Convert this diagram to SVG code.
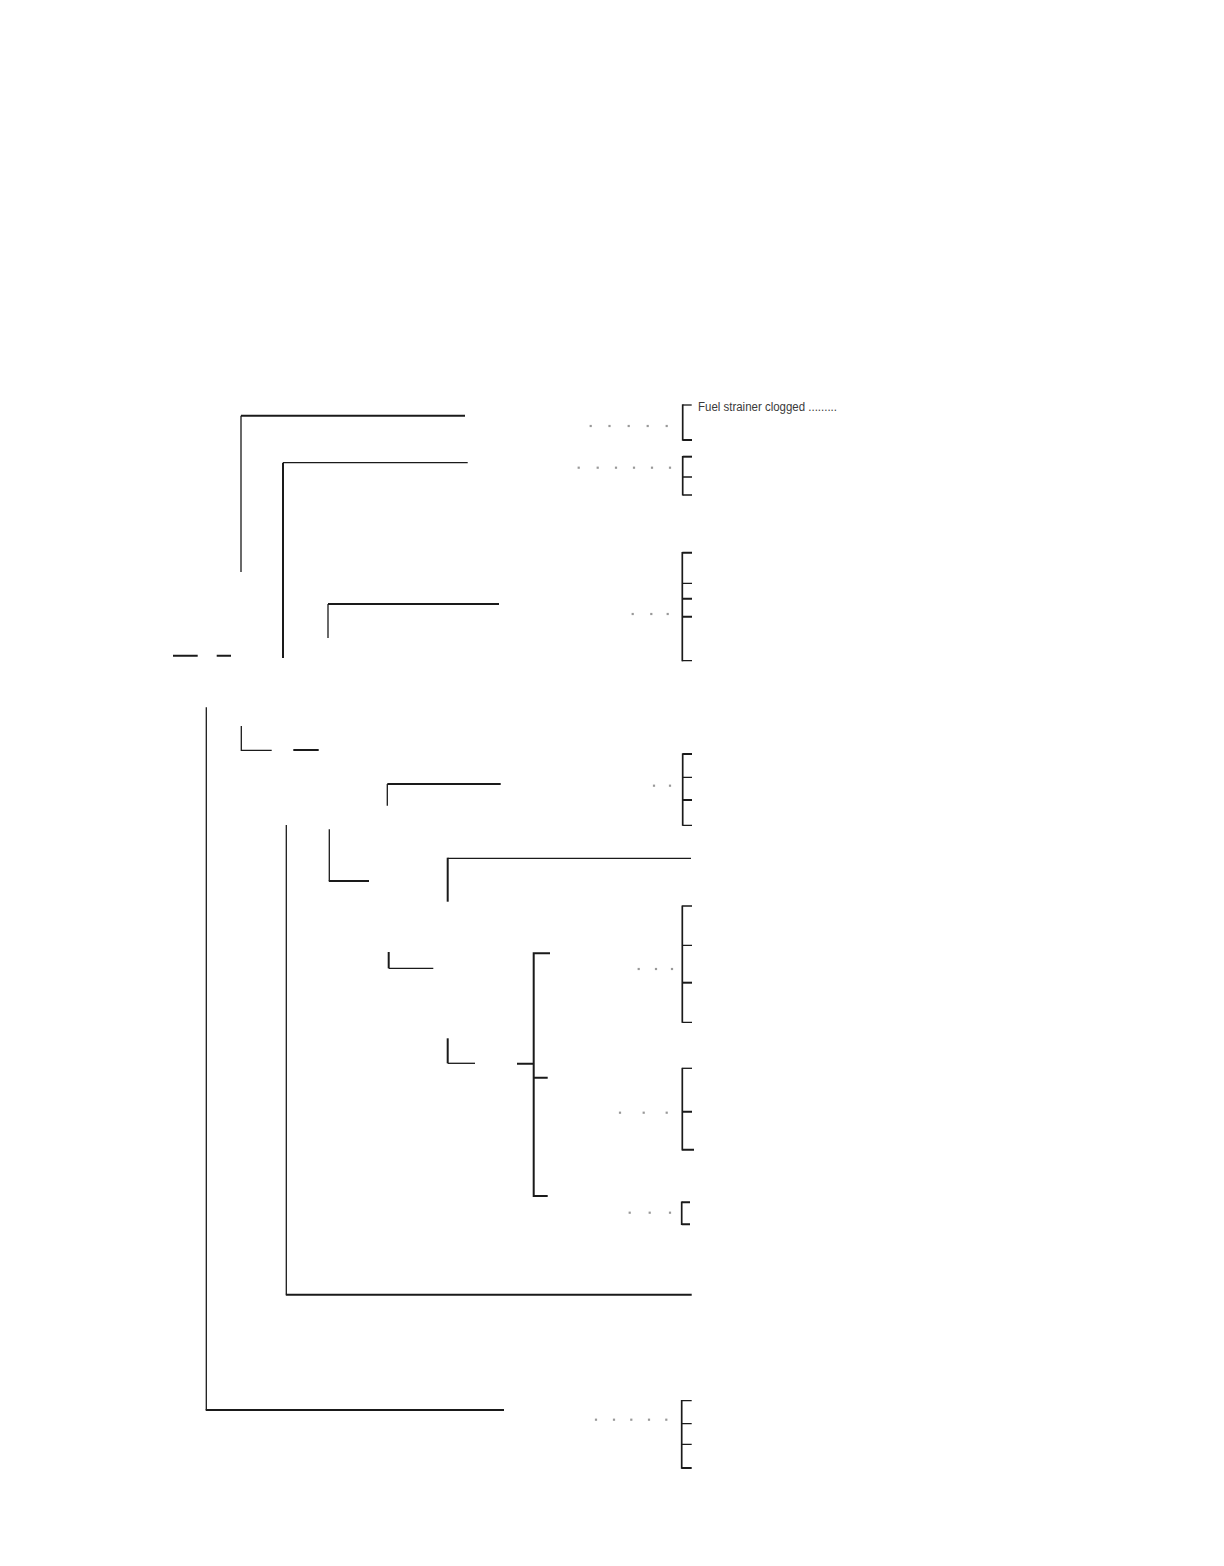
<svg xmlns="http://www.w3.org/2000/svg" width="1224" height="1566" viewBox="0 0 1224 1566">
<style>
.ln{fill:none;stroke:#1a1a1a;stroke-linecap:butt;stroke-linejoin:miter}
.t1{stroke-width:1.3}
.t2{stroke-width:2}
.br{fill:none;stroke:#1a1a1a;stroke-width:1.7}
.dot{fill:#999}
.lbl{font-family:"Liberation Sans",Arial,sans-serif;font-size:12.5px;fill:#3a3a3a}
</style>
<defs>
<rect id="d" x="-1.1" y="-1.1" width="2.2" height="2.2" class="dot"/>
</defs>
<rect width="1224" height="1566" fill="#fff"/>
<g id="connectors">
<path class="ln t2" d="M465,415.7 H241"/>
<path class="ln t1" d="M241,415.7 V572"/>
<path class="ln t1" d="M467.7,462.7 H283"/>
<path class="ln t2" d="M283,462.7 V658"/>
<path class="ln t2" d="M499,604 H328"/>
<path class="ln t1" d="M328,604 V638"/>
<path class="ln t2" d="M173,655.7 H197.7 M216.7,655.7 H231"/>
<path class="ln t1" d="M206.3,707.3 V1410"/>
<path class="ln t2" d="M205.7,1410 H504"/>
<path class="ln t1" d="M241.3,726 V750.3 H271.7"/>
<path class="ln t2" d="M293.3,750 H318.7"/>
<path class="ln t2" d="M500.7,784 H387.3"/>
<path class="ln t1" d="M387.3,784 V805.7"/>
<path class="ln t1" d="M286.3,825 V1294.7"/>
<path class="ln t2" d="M285.8,1294.7 H691.7"/>
<path class="ln t1" d="M329.3,829.3 V881"/>
<path class="ln t2" d="M328.8,881 H369"/>
<path class="ln t1" d="M691,858.3 H447.7"/>
<path class="ln t2" d="M447.7,857.7 V901.7"/>
<path class="ln t2" d="M388.7,952 V968.3"/>
<path class="ln t1" d="M388.7,968.3 H433.3"/>
<path class="ln t2" d="M447.7,1038.3 V1063.3"/>
<path class="ln t1" d="M447.7,1063.3 H475"/>
<path class="ln t2" d="M550,953.3 H533.7 V1196 H547.7 M517,1063.7 H533.7 M533.7,1077.7 H547.7"/>
</g>
<g id="bracket1">
<path class="br" d="M682.7,404.3 V440.7"/>
<path class="ln t1" d="M682.7,405 H691.7"/>
<path class="ln t2" d="M682.7,440 H692"/>
</g>
<g id="bracket2">
<path class="br" d="M682.7,456 V495.5"/>
<path class="ln t2" d="M682.7,456.7 H692"/>
<path class="ln t1" d="M682.7,477 H692 M682.7,495 H692"/>
</g>
<g id="bracket3">
<path class="br" d="M682.3,552 V661.3"/>
<path class="ln t2" d="M682.3,552.7 H692 M682.3,598.7 H692 M682.3,616.7 H692"/>
<path class="ln t1" d="M682.3,583.3 H692 M682.3,660.7 H692"/>
</g>
<g id="bracket4">
<path class="br" d="M682.7,753.3 V825.8"/>
<path class="ln t2" d="M682.7,754 H692 M682.7,800 H692"/>
<path class="ln t1" d="M682.7,777.3 H692 M682.7,825.3 H692"/>
</g>
<g id="bracket5">
<path class="br" d="M682.3,905.5 V1022.8"/>
<path class="ln t1" d="M682.3,906 H692 M682.3,945.3 H692 M682.3,1022.3 H692"/>
<path class="ln t2" d="M682.3,982.7 H692"/>
</g>
<g id="bracket6">
<path class="br" d="M682.3,1067.8 V1150.5"/>
<path class="ln t1" d="M682.3,1068.3 H692"/>
<path class="ln t2" d="M682.3,1111.7 H692 M682.3,1149.7 H694"/>
</g>
<g id="bracket7">
<path class="br" d="M681.7,1201.5 V1225"/>
<path class="ln t2" d="M681.7,1202.3 H690 M681.7,1224.3 H690"/>
</g>
<g id="bracket8">
<path class="br" d="M681.7,1400 V1468.8"/>
<path class="ln t1" d="M681.7,1400.7 H691.7 M681.7,1423.7 H691.7 M681.7,1444.3 H691.7"/>
<path class="ln t2" d="M681.7,1468 H691.7"/>
</g>
<g id="dots">
<use href="#d" x="590.7" y="426"/><use href="#d" x="609.5" y="426"/><use href="#d" x="628.7" y="426"/><use href="#d" x="647.7" y="426"/><use href="#d" x="666.7" y="426"/>
<use href="#d" x="578.7" y="467.7"/><use href="#d" x="597.7" y="467.7"/><use href="#d" x="616" y="467.7"/><use href="#d" x="634" y="467.7"/><use href="#d" x="652" y="467.7"/><use href="#d" x="670" y="467.7"/>
<use href="#d" x="632.7" y="614"/><use href="#d" x="651.3" y="614"/><use href="#d" x="667.7" y="614"/>
<use href="#d" x="654" y="785.7"/><use href="#d" x="670" y="785.7"/>
<use href="#d" x="638.7" y="969"/><use href="#d" x="656" y="969"/><use href="#d" x="672" y="969"/>
<use href="#d" x="620" y="1112.7"/><use href="#d" x="643.7" y="1112.7"/><use href="#d" x="666.7" y="1112.7"/>
<use href="#d" x="629.7" y="1212.7"/><use href="#d" x="649.7" y="1212.7"/><use href="#d" x="670" y="1212.7"/>
<use href="#d" x="596" y="1419.7"/><use href="#d" x="614" y="1419.7"/><use href="#d" x="631.3" y="1419.7"/><use href="#d" x="649" y="1419.7"/><use href="#d" x="666.3" y="1419.7"/>
</g>
<g id="label1">
<text class="lbl" x="698" y="410.5" textLength="139" lengthAdjust="spacingAndGlyphs">Fuel strainer clogged .........</text>
</g>
</svg>
